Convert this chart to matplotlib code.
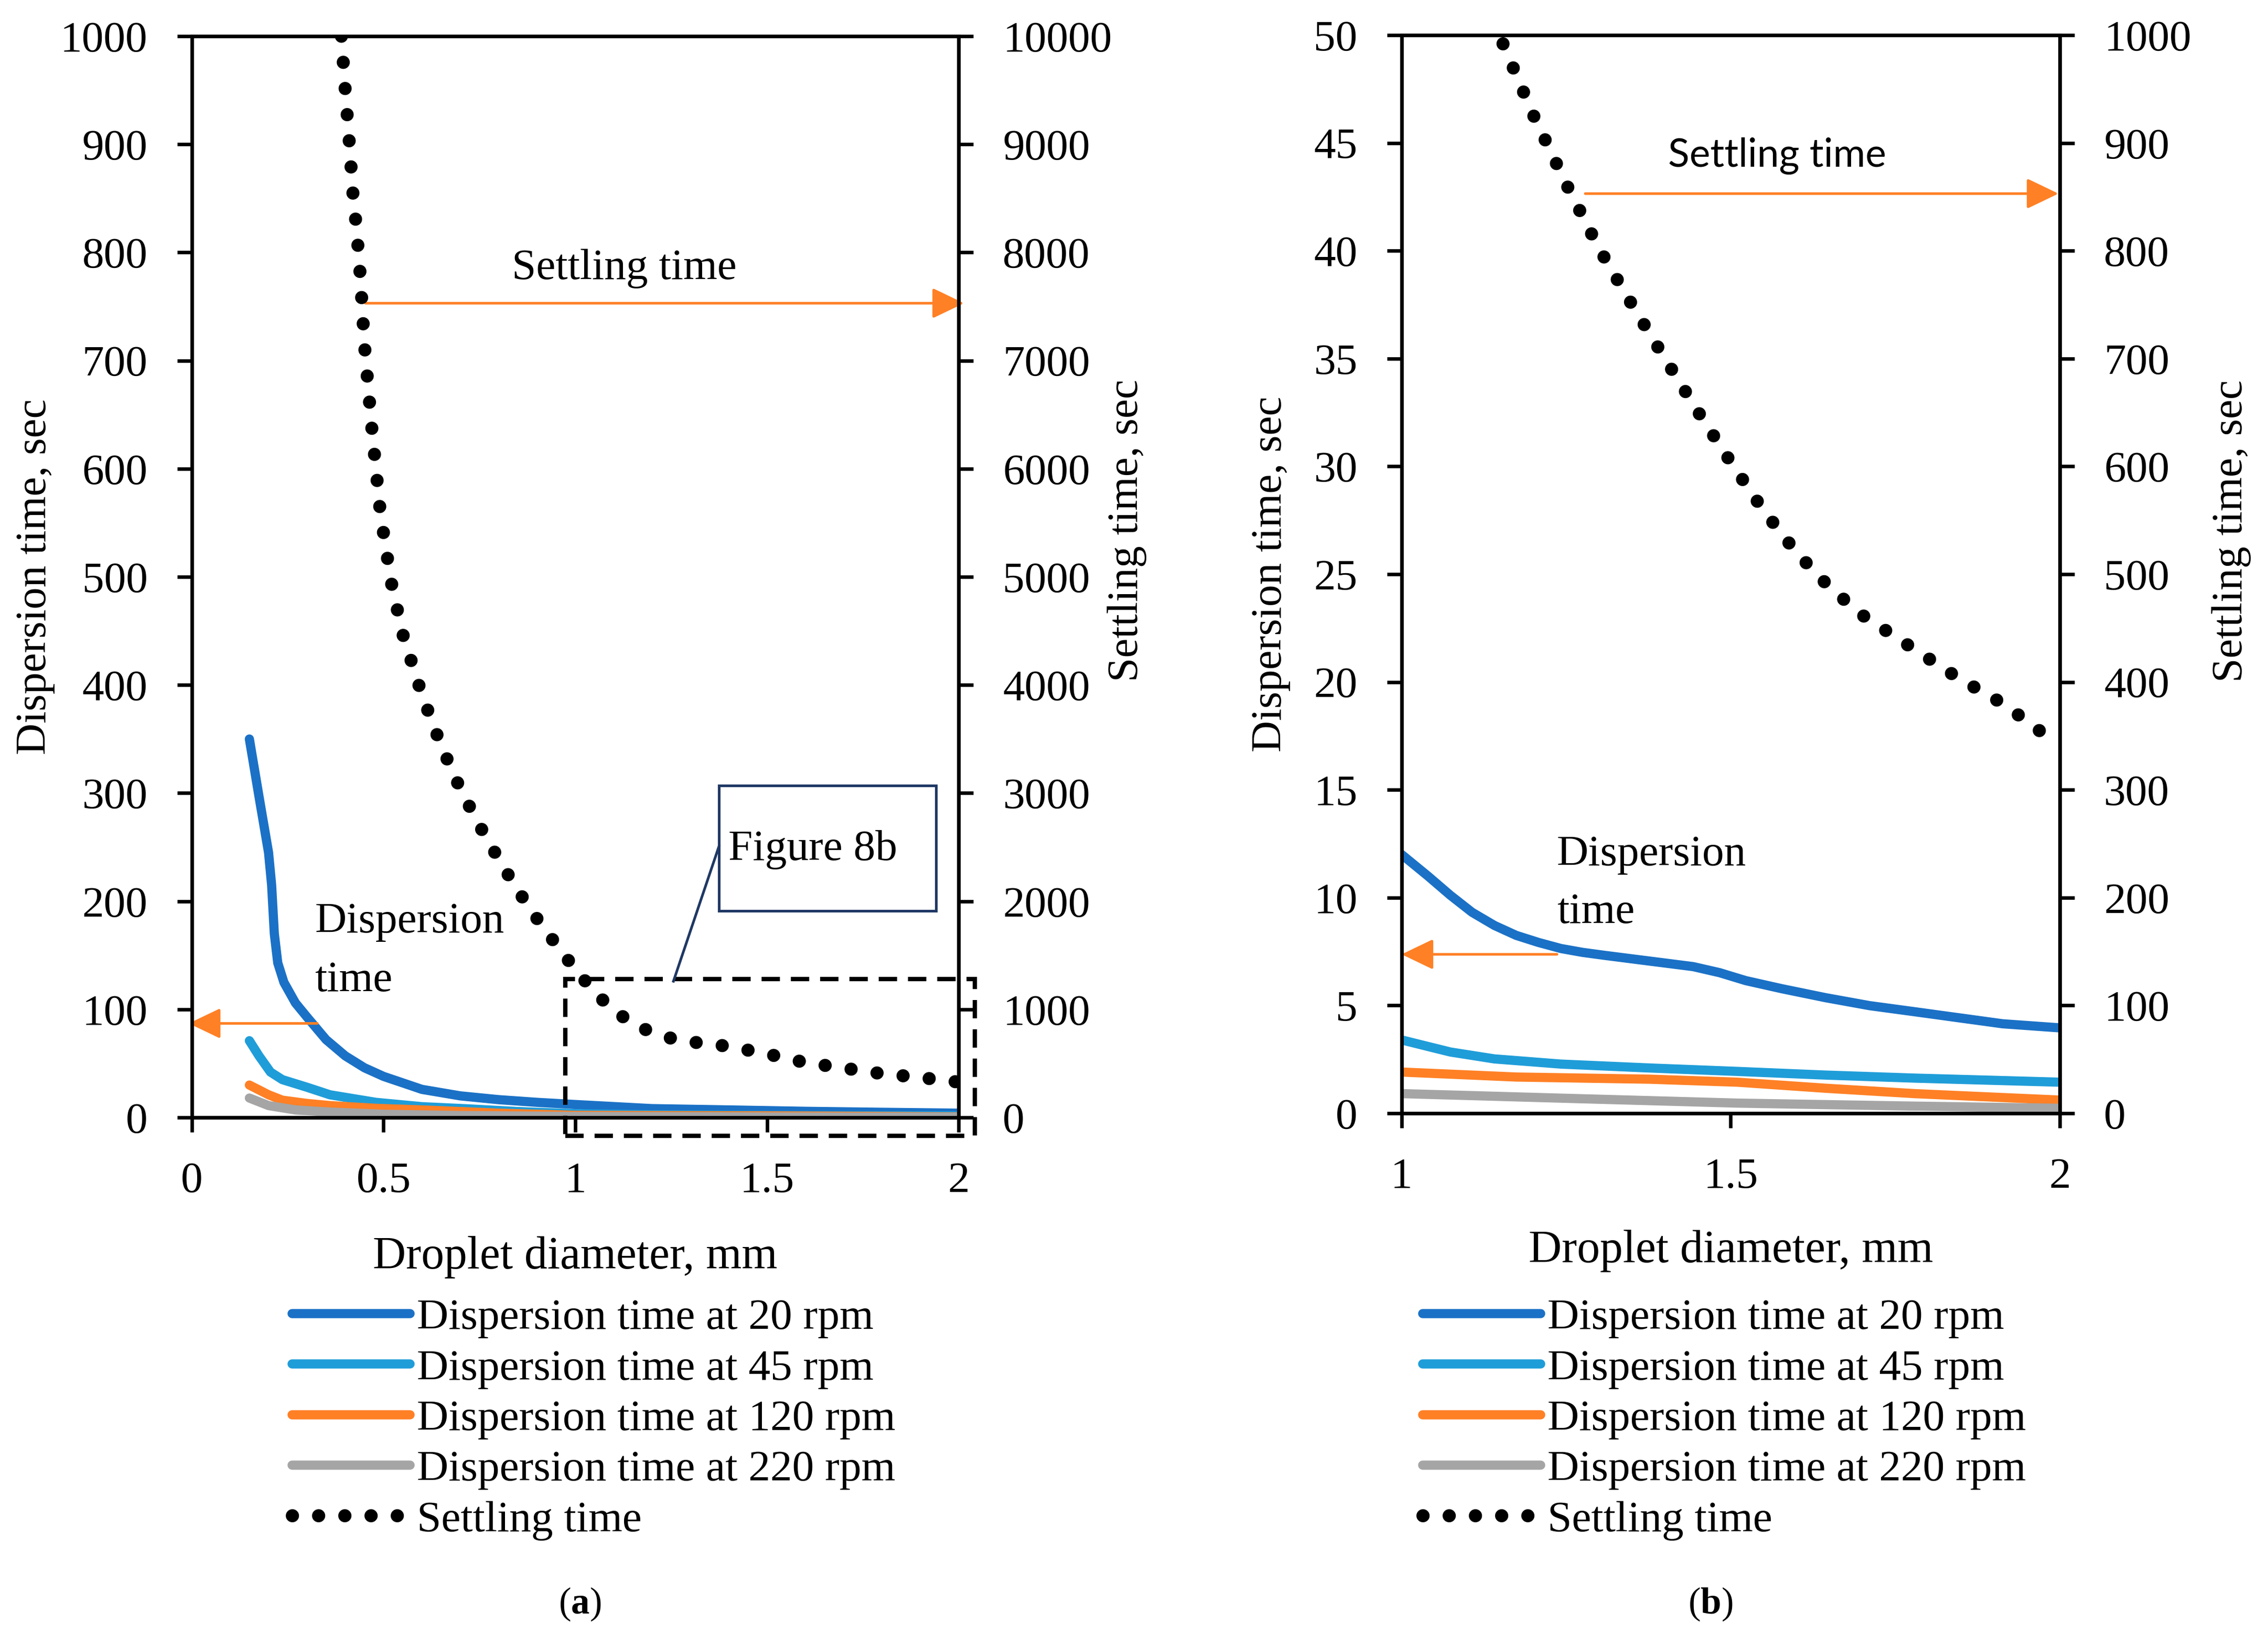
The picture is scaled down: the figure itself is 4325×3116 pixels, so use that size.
import matplotlib
matplotlib.use('Agg')
import matplotlib.pyplot as plt
from matplotlib.patches import Rectangle

plt.rcParams['font.family'] = 'Liberation Serif'
plt.rcParams['font.size'] = 20
plt.rcParams['mathtext.fontset'] = 'custom'
plt.rcParams['mathtext.rm'] = 'Liberation Serif'
plt.rcParams['mathtext.bf'] = 'Liberation Serif:bold'

################################
#         Data (read off)      #
################################
# panel (a): 0 - 2 mm
a_x_20 = [0.15, 0.175, 0.2, 0.208, 0.215, 0.224, 0.24, 0.27, 0.3, 0.35, 0.4, 0.45, 0.5,
          0.6, 0.7, 0.8, 0.9, 1.0, 1.2, 1.4, 1.6, 1.8, 2.0]
a_y_20 = [350, 297, 245, 215, 170, 143, 125, 106, 93, 72, 57, 46, 38,
          26, 20, 16.5, 14, 12, 8.2, 7.0, 5.7, 4.8, 4.0]
a_x_45 = [0.15, 0.175, 0.205, 0.236, 0.3, 0.36, 0.48, 0.6, 0.72, 0.85, 1.0, 1.2, 1.4, 1.6, 1.8, 2.0]
a_y_45 = [71, 57, 42, 35, 28, 21, 14, 10, 8, 5.5, 3.5, 2.5, 2.1, 1.8, 1.65, 1.5]
a_x_120 = [0.15, 0.2, 0.236, 0.3, 0.36, 0.48, 0.6, 0.8, 1.0, 1.25, 1.5, 1.75, 2.0]
a_y_120 = [30, 21, 16, 13, 11, 8.5, 7, 4, 2.0, 1.7, 1.5, 1.1, 0.5]
a_x_220 = [0.15, 0.2, 0.27, 0.36, 0.5, 0.7, 1.0, 1.25, 1.5, 1.75, 2.0]
a_y_220 = [18, 11, 7, 5, 3, 1.8, 1.0, 0.75, 0.5, 0.4, 0.3]
a_x_settle = [0.39, 0.40, 0.41, 0.42, 0.43, 0.44, 0.45, 0.46, 0.47, 0.49, 0.5, 0.52, 0.55,
              0.6, 0.65, 0.7, 0.75, 0.8, 0.85, 0.9, 0.95, 1.0, 1.05, 1.1, 1.15, 1.2,
              1.25, 1.3, 1.4, 1.5, 1.6, 1.7, 1.8, 1.9, 2.0]
a_y_settle = [10000, 9500, 9050, 8550, 8200, 7750, 7150, 6750, 6350, 5650, 5400, 4950, 4470,
              3910, 3440, 3040, 2700, 2390, 2100, 1840, 1600, 1370, 1160, 990, 870, 785,
              733, 700, 658, 588, 508, 457, 405, 370, 327]

# panel (b): 1 - 2 mm
b_x_20 = [1.0, 1.04, 1.074, 1.107, 1.141, 1.174, 1.208, 1.242, 1.275, 1.309, 1.376, 1.443,
          1.483, 1.523, 1.577, 1.644, 1.711, 1.779, 1.846, 1.913, 2.0]
b_y_20 = [12.0, 11.0, 10.11, 9.32, 8.71, 8.25, 7.92, 7.64, 7.46, 7.32, 7.06, 6.80,
          6.52, 6.15, 5.78, 5.36, 4.99, 4.71, 4.43, 4.15, 3.96]
b_x_45 = [1.0, 1.074, 1.141, 1.242, 1.376, 1.51, 1.644, 1.779, 2.0]
b_y_45 = [3.40, 2.84, 2.52, 2.28, 2.10, 1.94, 1.77, 1.63, 1.44]
b_x_120 = [1.0, 1.174, 1.376, 1.51, 1.644, 1.779, 2.0]
b_y_120 = [1.91, 1.68, 1.58, 1.44, 1.16, 0.91, 0.61]
b_x_220 = [1.0, 1.242, 1.51, 1.779, 2.0]
b_y_220 = [0.91, 0.70, 0.47, 0.33, 0.23]
b_x_settle = [1.154, 1.2, 1.25, 1.3, 1.35, 1.4, 1.45, 1.5, 1.55, 1.6, 1.65, 1.7, 1.75, 1.8,
              1.85, 1.9, 1.95, 2.0]
b_y_settle = [992, 926, 862, 802, 750, 700, 651, 604, 559, 520, 488, 462, 442, 422,
              402, 385, 364, 340]

labels = ['Dispersion time at 20 rpm', 'Dispersion time at 45 rpm',
          'Dispersion time at 120 rpm', 'Dispersion time at 220 rpm', 'Settling time']
colors = ['#1b71c6', '#1f9dd9', '#ff8025', '#a5a5a5']
orange = '#ff8025'
navy = '#1f3864'

################################
#         Figure setup         #
################################
fig = plt.figure(figsize=(4325 / 300, 3116 / 300), dpi=300)
ax_a = fig.add_axes([0.0846, 0.3161, 0.3381, 0.6618])
ax_b = fig.add_axes([0.6180, 0.3187, 0.2902, 0.6598])

lw = 4.2
dot_lw = 6.0
dot = (0, (0.01, 12 / dot_lw - 0.01))


def style_axes(ax, ax2):
    for a in (ax, ax2):
        for s in a.spines.values():
            s.set_linewidth(1.6)
        a.tick_params(direction='out', length=6.7, width=1.6, pad=13.5, labelsize=20)


def add_arrow(ax, tail, tip):
    ax.annotate('', xy=tip, xytext=tail, annotation_clip=False,
                arrowprops=dict(arrowstyle='-|>,head_length=12.5,head_width=6',
                                mutation_scale=1, color=orange, lw=1.2,
                                shrinkA=0, shrinkB=0))


def make_panel(ax, series, settle, xlim, ylim, ylim2, xticks, yticks, yticks2, legend_x):
    for (x, y), c, lab in zip(series, colors, labels):
        ax.plot(x, y, color=c, lw=lw, solid_capstyle='round', solid_joinstyle='round', label=lab)
    ax2 = ax.twinx()
    ax2.plot(settle[0], settle[1], color='black', lw=dot_lw, linestyle=dot,
             dash_capstyle='round', label=labels[4])
    ax.set_xlim(xlim)
    ax.set_ylim(ylim)
    ax2.set_ylim(ylim2)
    ax.set_xticks(xticks)
    ax.set_xticklabels([f'{t:g}' for t in xticks])
    ax.set_yticks(yticks)
    ax2.set_yticks(yticks2)
    style_axes(ax, ax2)
    ax.set_xlabel('Droplet diameter, mm', fontsize=21)
    ax.set_ylabel('Dispersion time, sec')
    ax2.set_ylabel('Settling time, sec')
    h1, l1 = ax.get_legend_handles_labels()
    h2, l2 = ax2.get_legend_handles_labels()
    ax.legend(h1 + h2, l1 + l2, loc='upper left', bbox_to_anchor=(legend_x, 0.2054),
              bbox_transform=fig.transFigure, frameon=False, borderpad=0,
              borderaxespad=0, handlelength=2.7, handletextpad=0.15,
              labelspacing=0.24, fontsize=20)
    return ax2


ax2_a = make_panel(ax_a,
                   [(a_x_20, a_y_20), (a_x_45, a_y_45), (a_x_120, a_y_120), (a_x_220, a_y_220)],
                   (a_x_settle, a_y_settle), (0, 2), (0, 1000), (0, 10000),
                   [0, 0.5, 1, 1.5, 2], range(0, 1001, 100), range(0, 10001, 1000), 0.1288)
ax2_b = make_panel(ax_b,
                   [(b_x_20, b_y_20), (b_x_45, b_y_45), (b_x_120, b_y_120), (b_x_220, b_y_220)],
                   (b_x_settle, b_y_settle), (1, 2), (0, 50), (0, 1000),
                   [1, 1.5, 2], range(0, 51, 5), range(0, 1001, 100), 0.6273)

# axis label positions
ax_a.yaxis.set_label_coords(-0.1785, 0.5)
ax2_a.yaxis.set_label_coords(1.194, 0.5427)
ax_a.xaxis.set_label_coords(0.5, -0.1095)
ax_b.yaxis.set_label_coords(-0.169, 0.5)
ax2_b.yaxis.set_label_coords(1.231, 0.540)
ax_b.xaxis.set_label_coords(0.5, -0.108)

################################
#     Annotations panel (a)    #
################################
ax_a.text(1.127, 785, 'Settling time', ha='center', va='center', fontsize=20)
add_arrow(ax_a, (0.453, 753), (2.014, 753))
ax_a.text(0.321, 171, 'Dispersion', ha='left', va='baseline', fontsize=20)
ax_a.text(0.321, 117, 'time', ha='left', va='baseline', fontsize=20)
add_arrow(ax_a, (0.327, 87), (-0.008, 87))

ax_a.add_patch(Rectangle((0.974, -17), 1.068, 145, fill=False, edgecolor='black',
                         lw=2.0, linestyle=(0, (4.2, 2.5)), clip_on=False, zorder=5))
ax_a.add_patch(Rectangle((1.375, 191), 0.566, 116, fill=False, edgecolor=navy,
                         lw=1.2, clip_on=False, zorder=5))
ax_a.plot([1.375, 1.256], [251, 126], color=navy, lw=1.2, zorder=5)
ax_a.text(1.40, 238, 'Figure 8b', ha='left', va='baseline', fontsize=20)

################################
#     Annotations panel (b)    #
################################
ax_b.text(1.405, 43.9, 'Settling time', ha='left', va='baseline', fontsize=18, family='Lato')
add_arrow(ax_b, (1.279, 42.65), (1.998, 42.65))
ax_b.text(1.236, 11.5, 'Dispersion', ha='left', va='baseline', fontsize=20)
ax_b.text(1.236, 8.83, 'time', ha='left', va='baseline', fontsize=20)
add_arrow(ax_b, (1.236, 7.37), (1.0, 7.37))

fig.text(1106 / 4325, 1 - 3059 / 3116, r'($\mathbf{a}$)', ha='center', va='center', fontsize=17)
fig.text(3262 / 4325, 1 - 3059 / 3116, r'($\mathbf{b}$)', ha='center', va='center', fontsize=17)

fig.savefig('out.png', dpi=300)
